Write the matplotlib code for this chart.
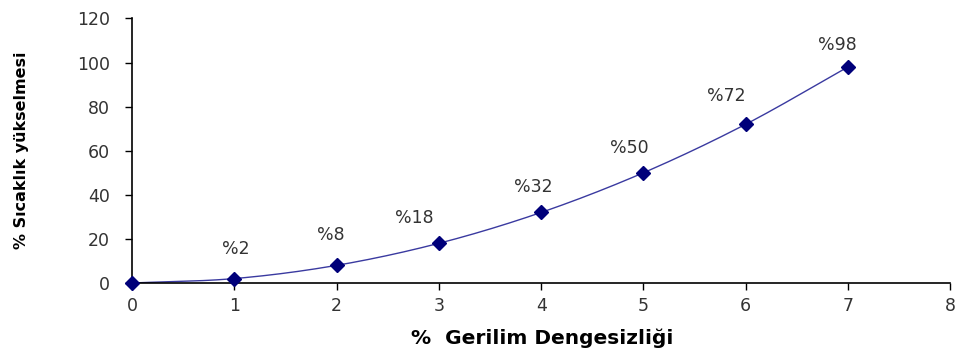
import numpy as np
import matplotlib
matplotlib.use("Agg")
import matplotlib.pyplot as plt

#-------------------#
# Data
#-------------------#
imbalance = [0, 1, 2, 3, 4, 5, 6, 7]
temp_rise = [0, 2, 8, 18, 32, 50, 72, 98]
point_labels = ["", "%2", "%8", "%18", "%32", "%50", "%72", "%98"]

x_ticks = [0, 1, 2, 3, 4, 5, 6, 7, 8]
y_ticks = [0, 20, 40, 60, 80, 100, 120]

# label offsets (points) relative to each marker
label_offsets = [(0, 0), (1, 21), (-4, 22), (-18, 18), (-6, 18), (-10, 18), (-14, 20), (-8, 16)]

#-------------------#
# Utils
#-------------------#
def smooth_curve(x, y, n=30):
	""" Catmull-Rom curve through the points, like a smoothed office line. """
	x = np.asarray(x, float)
	y = np.asarray(y, float)
	px = np.concatenate(([2*x[0]-x[1]], x, [2*x[-1]-x[-2]]))
	py = np.concatenate(([2*y[0]-y[1]], y, [2*y[-1]-y[-2]]))
	xs, ys = [], []
	t = np.linspace(0, 1, n)
	for i in range(1, len(px)-2):
		for p, out in ((px, xs), (py, ys)):
			p0, p1, p2, p3 = p[i-1], p[i], p[i+1], p[i+2]
			out.extend(0.5*((2*p1) + (-p0+p2)*t + (2*p0-5*p1+4*p2-p3)*t**2 + (-p0+3*p1-3*p2+p3)*t**3))
	return xs, ys

#-------------------#
# Figure
#-------------------#
plt.rcParams['font.family'] = ['DejaVu Sans']
fig = plt.figure(figsize=(9.57, 3.54), dpi=100)
ax = fig.add_axes([0.138, 0.2006, 0.855, 0.7474])

cx, cy = smooth_curve(imbalance, temp_rise)
ax.plot(cx, cy, color='#3a3aa0', lw=1.0, zorder=2)
ax.plot(imbalance, temp_rise, ls='none', marker='D', ms=7, color='#00007a', zorder=3, clip_on=False)

for x, y, s, off in zip(imbalance, temp_rise, point_labels, label_offsets):
	if s:
		ax.annotate(s, (x, y), xytext=off, textcoords='offset points',
				ha='center', va='center', fontsize=12.5, color='#333333')

ax.set_xlim(0, 8)
ax.set_ylim(0, 120)
ax.set_xticks(x_ticks)
ax.set_yticks(y_ticks)
ax.tick_params(labelsize=12.5, labelcolor='#333333', length=5, width=1, direction='out')
ax.tick_params(axis='x', pad=5)
ax.tick_params(axis='y', pad=11)
for s in ['top', 'right']:
	ax.spines[s].set_visible(False)
for s in ['left', 'bottom']:
	ax.spines[s].set_linewidth(1.2)

fig.text(0.567, 0.045, "%  Gerilim Dengesizliği", ha='center', va='center',
		fontsize=14.5, fontweight='bold')
fig.text(0.022, 0.575, "% Sıcaklık yükselmesi", ha='center', va='center',
		rotation=90, fontsize=11.5, fontweight='bold')

fig.savefig("out.png", dpi=100)
